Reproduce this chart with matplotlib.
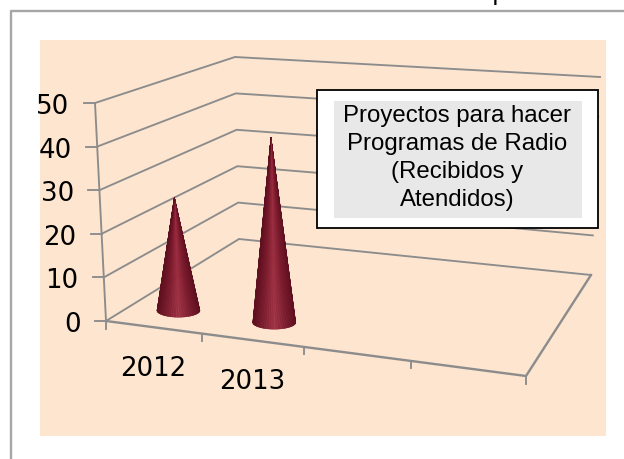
import numpy as np
import matplotlib
matplotlib.use("Agg")
import matplotlib.pyplot as plt
from matplotlib.patches import Rectangle, Polygon
from matplotlib.colors import LinearSegmentedColormap

categories = ["2012", "2013"]
values = [26.5, 42.5]
y_ticks = [0, 10, 20, 30, 40, 50]
x_slots = 4
title_lines = ["Proyectos para hacer", "Programas de Radio", "(Recibidos y", "Atendidos)"]

GRID = "#8c8c8c"
BG = "#FDE5CF"
DEPTH = 0.17
Z_MAX = 50

FLOOR = [(106, 321), (526, 376), (591, 275), (239, 239)]
TOP = [(95, 103), (555, 140), (600, 77), (235, 57)]


def homography(pts):
    src = [(0, 0), (1, 0), (1, 1), (0, 1)]
    A, b = [], []
    for (u, v), (x, y) in zip(src, pts):
        A.append([u, v, 1, 0, 0, 0, -u * x, -v * x]); b.append(x)
        A.append([0, 0, 0, u, v, 1, -u * y, -v * y]); b.append(y)
    return np.append(np.linalg.solve(np.array(A, float), np.array(b, float)), 1).reshape(3, 3)


H0, H1 = homography(FLOOR), homography(TOP)


def project(u, v, z):
    def ap(H):
        p = H @ np.array([u, v, 1.0])
        return p[:2] / p[2]
    t = z / Z_MAX
    return (1 - t) * ap(H0) + t * ap(H1)


fig = plt.figure(figsize=(6.24, 4.59), dpi=100, facecolor="white")
ax = fig.add_axes([0, 0, 1, 1])
ax.set_xlim(0, 624)
ax.set_ylim(459, 0)
ax.axis("off")

# outer frame and plot background
ax.plot([11, 11, 624], [459, 11, 11], color="#a6a6a6", lw=1.7, zorder=1)
ax.add_patch(Rectangle((40, 40), 566, 396, fc=BG, ec="none", zorder=1))
ax.text(500, -7, "p", fontsize=18, family="DejaVu Sans", ha="center", va="center", color="black")


def seg(pts, lw=1.35):
    arr = np.array(pts)
    ax.plot(arr[:, 0], arr[:, 1], color=GRID, lw=lw, zorder=2, solid_joinstyle="miter")


# walls and gridlines
for z in y_ticks:
    seg([project(0, 0, z), project(0, 1, z), project(1, 1, z)])
    p = project(0, 0, z)
    seg([p, p + np.array([-11, 0])])
    ax.text(p[0] - 25.5, p[1] + 4, str(z), fontsize=18.7, family="DejaVu Sans",
            ha="right", va="center", color="black", zorder=4)
seg([project(0, 0, 0), project(0, 0, Z_MAX)])

# floor
seg([project(0, 0, 0), project(1, 0, 0), project(1, 1, 0)], lw=1.7)
for i in range(x_slots + 1):
    p = project(i / x_slots, 0, 0)
    seg([p, p + np.array([0, 7.5])])

for i, c in enumerate(categories):
    p = project((i + 0.5) / x_slots, 0, 0)
    ax.text(p[0], p[1] + 42, c, fontsize=18.7, family="DejaVu Sans",
            ha="center", va="center", color="black", zorder=4)

# cones
cone_cmap = LinearSegmentedColormap.from_list("cone", ["#5f1020", "#7a1a2c", "#9c2d40", "#7a1a2c", "#5f1020"])
A_R, B_R = 21.5, 6.8
thetas = np.linspace(0, np.pi, 90)
for i, val in enumerate(values):
    u = (i + 0.5) / x_slots
    base = project(u, DEPTH, 0)
    apex = project(u, DEPTH, val)
    for t0, t1 in zip(thetas[:-1], thetas[1:]):
        tm = 0.5 * (t0 + t1)
        col = cone_cmap(0.5 - 0.5 * np.cos(tm))
        p0 = base + [A_R * np.cos(t0), B_R * np.sin(t0)]
        p1 = base + [A_R * np.cos(t1), B_R * np.sin(t1)]
        ax.add_patch(Polygon([apex, p0, p1], closed=True, fc=col, ec=col, lw=0.3, zorder=3))

# title box
ax.add_patch(Rectangle((317, 90), 281, 138, fc="white", ec="black", lw=1.3, zorder=5))
ax.add_patch(Rectangle((334, 101), 248, 117, fc="#E8E8E8", ec="none", zorder=6))
for k, line in enumerate(title_lines):
    ax.text(457, 116 + 28 * k, line, fontsize=17.3, family="Liberation Sans",
            ha="center", va="center", color="black", zorder=7)

fig.savefig("out.png", dpi=100, facecolor="white")
